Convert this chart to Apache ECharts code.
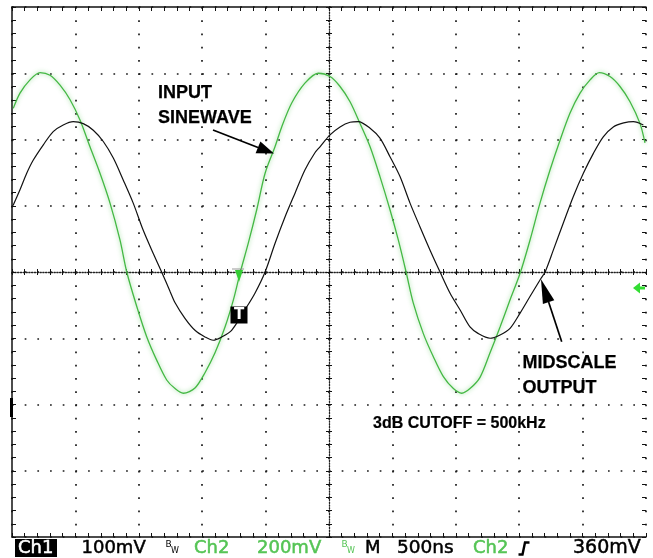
<!DOCTYPE html>
<html><head><meta charset="utf-8">
<script src="https://cdn.jsdelivr.net/npm/echarts@6/dist/echarts.min.js"></script>
<style>html,body{margin:0;padding:0;background:#fff}#c{width:653px;height:558px}</style>
</head><body><div id="c"></div>
<script>
// Time in microseconds relative to screen centre (500 ns/div)
const timeCh2 = [-2.49,-2.437,-2.358,-2.279,-2.2,-2.121,-2.042,-1.963,-1.885,-1.806,-1.727,-1.648,-1.595,-1.516,-1.437,-1.359,-1.28,-1.214,-1.149,-1.057,-0.978,-0.899,-0.82,-0.754,-0.702,-0.636,-0.57,-0.504,-0.426,-0.373,-0.294,-0.19,-0.085,0.008,0.087,0.166,0.245,0.324,0.402,0.481,0.547,0.608,0.665,0.744,0.823,0.902,0.981,1.047,1.112,1.191,1.27,1.349,1.428,1.507,1.585,1.664,1.743,1.822,1.901,1.98,2.059,2.132,2.216,2.295,2.374,2.453,2.492];
// Ch2 (input sinewave), mV, 200 mV/div
const ch2mV = [494,540,580,602,594,564,520,458,378,298,208,96,0,-104,-196,-266,-326,-352,-366,-350,-304,-244,-166,-84,-4,88,188,298,378,438,510,570,600,590,560,514,448,378,288,188,96,0,-94,-186,-256,-316,-352,-366,-352,-318,-244,-166,-84,-4,96,208,308,398,480,540,580,602,590,560,514,448,390];
const timeCh1 = [-2.49,-2.437,-2.384,-2.332,-2.253,-2.175,-2.096,-2.017,-1.938,-1.859,-1.78,-1.701,-1.623,-1.544,-1.465,-1.386,-1.32,-1.254,-1.215,-1.136,-1.057,-0.978,-0.913,-0.846,-0.768,-0.663,-0.584,-0.504,-0.426,-0.347,-0.268,-0.19,-0.111,-0.071,0.008,0.087,0.166,0.231,0.324,0.402,0.481,0.56,0.639,0.718,0.797,0.876,0.955,1.033,1.112,1.178,1.27,1.349,1.428,1.507,1.585,1.664,1.704,1.769,1.848,1.927,2.006,2.085,2.163,2.242,2.324,2.4,2.479];
// Ch1 (midscale output), mV, 100 mV/div
const ch1mV = [101,124,149,169,192,212,222,227,224,214,197,172,139,104,63,28,0,-29,-46,-70,-88,-98,-103,-98,-88,-57,-32,0,43,83,119,154,180,189,207,219,226,227,217,202,174,144,104,68,33,0,-32,-57,-83,-93,-100,-95,-85,-62,-37,-12,0,33,74,114,149,179,204,219,225,227,222];
const statusLabels = ['Ch1','100mV','Ch2','200mV','M','500ns','Ch2','360mV'];

const chart = echarts.init(document.getElementById('c'), null, {renderer:'canvas'});
const GREEN = '#44b844', SGREEN = '#55c455';
const dotX = [1.7, 10.98];   // along horizontal lines
const dotY = [1.7, 11.55];  // along vertical lines
function borderX(pos){return {type:'value',min:-2.5,max:2.5,interval:0.5,position:pos,
  axisLine:{show:true,onZero:false,lineStyle:{color:'#111',width:1.5}},
  axisTick:{show:true,inside:true,length:4,lineStyle:{color:'#111',width:1}},
  minorTick:{show:true,splitNumber:5,length:4,lineStyle:{color:'#111',width:1}},
  axisLabel:{show:false},splitLine:{show:false}};}
function centerX(inside){return {type:'value',min:-2.5,max:2.5,interval:0.5,position:'bottom',
  axisLine:{show:inside,onZero:true,onZeroAxisIndex:0,lineStyle:{color:'#222',width:1.3,type:[1.3,1.5]}},
  axisTick:{show:true,inside:inside,length:3,lineStyle:{color:'#111',width:1}},
  minorTick:{show:true,splitNumber:5,length:3,lineStyle:{color:'#111',width:1}},
  axisLabel:{show:false},splitLine:{show:false}};}
function borderY(pos,mn,mx,iv,line){return {type:'value',min:mn,max:mx,interval:iv,position:pos,
  axisLine:{show:line,onZero:false,lineStyle:{color:'#111',width:1.5}},
  axisTick:{show:true,inside:true,length:4,lineStyle:{color:'#111',width:1}},
  minorTick:{show:true,splitNumber:5,length:4,lineStyle:{color:'#111',width:1}},
  axisLabel:{show:false},splitLine:{show:false}};}
function centerY(inside){return {type:'value',min:-400,max:400,interval:100,position:'left',
  axisLine:{show:inside,onZero:true,onZeroAxisIndex:0,lineStyle:{color:'#222',width:1.3,type:[1.3,1.5]}},
  axisTick:{show:true,inside:inside,length:3,lineStyle:{color:'#111',width:1}},
  minorTick:{show:true,splitNumber:5,length:3,lineStyle:{color:'#111',width:1}},
  axisLabel:{show:false},splitLine:{show:false}};}

const xb = borderX('bottom');
xb.splitLine = {show:true,lineStyle:{color:'#1a1a1a',width:1.7,type:dotY}};
const yl = borderY('left',-400,400,100,true);
yl.splitLine = {show:true,lineStyle:{color:'#1a1a1a',width:1.7,type:dotX}};

const F = '"DejaVu Sans"';
function txt(x,y,t,font,fill,sw){const s={text:t,font:font,fill:fill,align:'left',verticalAlign:'middle'};
  if(sw){s.stroke=fill;s.lineWidth=sw;}
  return {type:'text',x:x,y:y,z:100,style:s};}
function arrow(x1,y1,bx,by,p1,p2,tip){return [
  {type:'polyline',z:100,shape:{points:[[x1,y1],[bx,by]]},style:{stroke:'#000',lineWidth:1.7,fill:null}},
  {type:'polygon',z:100,shape:{points:[tip,p1,p2]},style:{fill:'#000'}}];}
const AB = 'bold 18px "Liberation Sans"';
const graphics = [
  txt(158,93.5,'INPUT',AB,'#000',0.25),
  txt(158,118.5,'SINEWAVE',AB,'#000',0.25),
  txt(522.5,363.5,'MIDSCALE',AB,'#000',0.25),
  txt(522.5,388,'OUTPUT',AB,'#000',0.25),
  txt(373,424,'3dB CUTOFF = 500kHz','bold 16px "Liberation Sans"','#000',0.2),
  ...arrow(213,130,258,147.5,[255.6,153.2],[260.4,141.4],[274,153.5]),
  ...arrow(561.7,341.7,548.6,302.1,[554.3,300.2],[542.9,304.0],[541,279.3]),
  // trigger position marker
  {type:'rect',z:100,shape:{x:230.5,y:306.5,width:17,height:17},style:{fill:'#000'}},
  {type:'text',x:239,y:315.5,z:101,style:{text:'T',font:'bold 15px "DejaVu Sans"',fill:'#fff',align:'center',verticalAlign:'middle'}},
  // trigger level marker on trace
  {type:'polyline',z:100,shape:{points:[[232,269],[244,269]]},style:{stroke:'#999',lineWidth:1}},
  {type:'polygon',z:100,shape:{points:[[235,270],[243,270],[239,282]]},style:{fill:'#33cc33'}},
  // ch2 level arrow on right
  {type:'polygon',z:100,shape:{points:[[633,288],[640,282.5],[640,293.5]]},style:{fill:'#33dd33'}},
  {type:'rect',z:100,shape:{x:639,y:286.5,width:6,height:3},style:{fill:'#33dd33'}},
  // ch1 ground marker on left
  {type:'rect',z:100,shape:{x:10,y:398,width:3,height:19},style:{fill:'#000'}},
  // status bar
  {type:'rect',z:100,shape:{x:15,y:539,width:42,height:18},style:{fill:'#000'}},
  txt(18,548.5,statusLabels[0],'18px '+F,'#fff',0.5),
  txt(81.5,548.5,statusLabels[1],'18px '+F,'#000',0.5),
  txt(165.5,545,'B','9px '+F,'#000'),
  txt(171,551,'W','8px '+F,'#000'),
  txt(194,548.5,statusLabels[2],'18px '+F,SGREEN,0.5),
  txt(257,548.5,statusLabels[3],'18px '+F,SGREEN,0.5),
  txt(341.5,545,'B','9px '+F,SGREEN),
  txt(347,551,'W','8px '+F,SGREEN),
  txt(365,548.5,statusLabels[4],'18px '+F,'#000',0.5),
  txt(397,548.5,statusLabels[5],'18.5px '+F,'#000',0.5),
  txt(473,548.5,statusLabels[6],'18px '+F,SGREEN,0.5),
  {type:'polyline',z:100,shape:{points:[[518.5,554.5],[522.5,554.5],[525,542.5],[529.5,542.5]]},style:{stroke:'#000',lineWidth:2.4,fill:null}},
  txt(573,548.5,statusLabels[7],'19px '+F,'#000',0.5)
];

chart.setOption({
  animation:false,
  backgroundColor:'#fff',
  grid:{left:12,top:7,width:634,height:530,outerBoundsMode:'none',containLabel:false},
  xAxis:[xb, borderX('top'), centerX(true), centerX(false)],
  yAxis:[yl, borderY('right',-800,800,200,false), centerY(true), centerY(false)],
  series:[
    {type:'line',name:'Ch2',xAxisIndex:0,yAxisIndex:1,data:timeCh2.map((t,i)=>[t,ch2mV[i]]),
     showSymbol:false,smooth:0.3,lineStyle:{color:GREEN,width:1.3,shadowBlur:4,shadowColor:'rgba(90,200,90,0.7)'},z:5},
    {type:'line',name:'Ch1',xAxisIndex:0,yAxisIndex:0,data:timeCh1.map((t,i)=>[t,ch1mV[i]]),
     showSymbol:false,smooth:0.3,lineStyle:{color:'#111',width:1.2},z:6}
  ],
  graphic:graphics
});
</script></body></html>
